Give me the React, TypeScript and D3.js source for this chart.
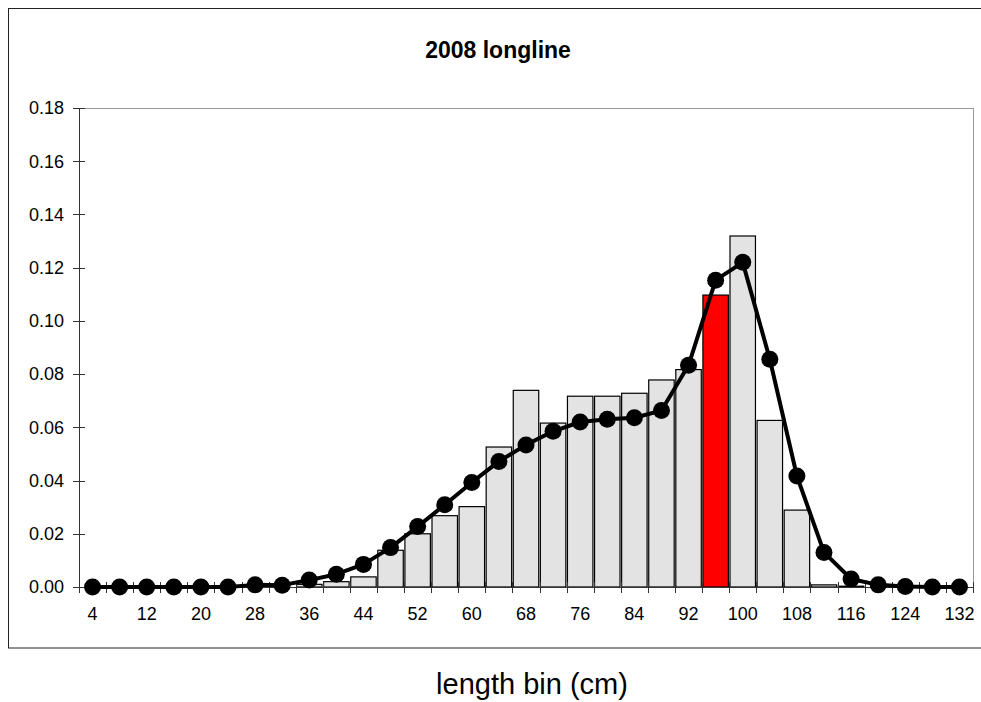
import React from "react";
import * as d3 from "d3";

const bins = [4, 8, 12, 16, 20, 24, 28, 32, 36, 40, 44, 48, 52, 56, 60, 64, 68, 72, 76, 80, 84, 88, 92, 96, 100, 104, 108, 112, 116, 120, 124, 128, 132];
const observed = [0, 0, 0, 0, 0, 0, 0, 0, 0.001, 0.002, 0.0038, 0.0138, 0.02, 0.0268, 0.0302, 0.0526, 0.0739, 0.0616, 0.0717, 0.0717, 0.0728, 0.0778, 0.0817, 0.1097, 0.1319, 0.0626, 0.0289, 0.0008, 0.0003, 0, 0, 0, 0];
const expected = [0, 0, 0, 0, 0, 0, 0.0008, 0.0007, 0.0026, 0.0048, 0.0085, 0.0148, 0.0227, 0.0309, 0.0393, 0.0472, 0.0534, 0.0585, 0.062, 0.063, 0.0636, 0.0663, 0.0833, 0.1153, 0.122, 0.0856, 0.0417, 0.013, 0.003, 0.0008, 0.0002, 0, 0];
const highlightBin = 96;
const yTicks = [0, 0.02, 0.04, 0.06, 0.08, 0.1, 0.12, 0.14, 0.16, 0.18];
const xLabelBins = [4, 12, 20, 28, 36, 44, 52, 60, 68, 76, 84, 92, 100, 108, 116, 124, 132];
const title = "2008 longline";
const xTitle = "length bin (cm)";

const W = 981, H = 702;
const plot = { left: 79, right: 973, top: 108, bottom: 587 };
const font = "Arial, 'Liberation Sans', sans-serif";

export default function App() {
  const x = d3.scaleBand<number>().domain(bins).range([plot.left, plot.right]).paddingInner(0.06).paddingOuter(0.03);
  const xb = d3.scaleBand<number>().domain(bins).range([plot.left, plot.right]);
  const y = d3.scaleLinear().domain([0, 0.18]).range([plot.bottom, plot.top]);
  const line = d3.line<number>().x((_, i) => xb(bins[i])! + xb.bandwidth() / 2).y((d) => y(d));
  const boundaries = d3.range(bins.length + 1).map((i) => plot.left + i * xb.bandwidth());

  return (
    <svg width={W} height={H} style={{ position: "absolute", left: 0, top: 0, display: "block" }} fontFamily={font}>
      <rect x={0} y={0} width={W} height={H} fill="#fff" />
      <rect x={8.5} y={8.5} width={990} height={639.5} fill="#fff" stroke="#222" strokeWidth={1} />
      <text x={498} y={58} textAnchor="middle" fontSize={23} fontWeight="bold" fill="#000">{title}</text>
      {/* plot border top/right */}
      <line x1={plot.left} x2={plot.right + 0.5} y1={plot.top + 0.5} y2={plot.top + 0.5} stroke="#999" />
      <line x1={plot.right + 0.5} x2={plot.right + 0.5} y1={plot.top} y2={plot.bottom} stroke="#999" />
      {/* bars */}
      {bins.map((b, i) => (
        <rect key={b} x={x(b)!} y={y(observed[i])} width={x.bandwidth()} height={Math.max(0, y(0) - y(observed[i]))}
          fill={b === highlightBin ? "#ff0000" : "#e3e3e3"} stroke="#000" strokeWidth={1.2} />
      ))}
      {/* y axis */}
      <line x1={plot.left + 0.5} x2={plot.left + 0.5} y1={plot.top} y2={plot.bottom} stroke="#333" strokeWidth={1} />
      {yTicks.map((t) => (
        <g key={t}>
          <line x1={plot.left - 6} x2={plot.left + 6} y1={Math.round(y(t)) + 0.5} y2={Math.round(y(t)) + 0.5} stroke="#333" />
          <text x={plot.left - 15} y={y(t)} dy="0.35em" textAnchor="end" fontSize={18} fill="#000">{t.toFixed(2)}</text>
        </g>
      ))}
      {/* x axis */}
      <line x1={plot.left} x2={plot.right} y1={plot.bottom + 0.5} y2={plot.bottom + 0.5} stroke="#333" strokeWidth={1} />
      {boundaries.map((bx, i) => (
        <line key={i} x1={Math.round(bx) + 0.5} x2={Math.round(bx) + 0.5} y1={plot.bottom - 5} y2={plot.bottom + 6} stroke="#333" />
      ))}
      {xLabelBins.map((b) => (
        <text key={b} x={xb(b)! + xb.bandwidth() / 2} y={620} textAnchor="middle" fontSize={18} fill="#000">{b}</text>
      ))}
      {/* line */}
      <path d={line(expected)!} fill="none" stroke="#000" strokeWidth={4} strokeLinejoin="round" />
      {expected.map((v, i) => (
        <circle key={i} cx={xb(bins[i])! + xb.bandwidth() / 2} cy={y(v)} r={8.5} fill="#000" />
      ))}
      <text x={532} y={694} textAnchor="middle" fontSize={29} fill="#000">{xTitle}</text>
    </svg>
  );
}
